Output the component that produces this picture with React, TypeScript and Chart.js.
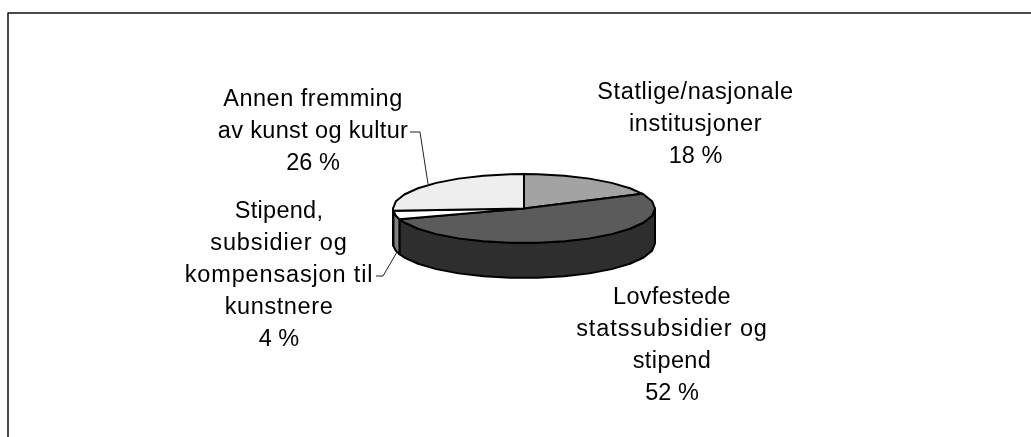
import React, { useEffect, useRef } from "react";
import { Chart, registerables } from "chart.js";

Chart.register(...registerables);

const categories = [
  "Statlige/nasjonale institusjoner",
  "Lovfestede statssubsidier og stipend",
  "Stipend, subsidier og kompensasjon til kunstnere",
  "Annen fremming av kunst og kultur",
];
const shares = [18, 52, 4, 26];
const topColors = ["#a3a3a3", "#5b5b5b", "#ffffff", "#eeeeee"];
const sideColors = ["#727272", "#2e2e2e", "#808080", "#a8a8a8"];

const labelLines = [
  ["Statlige/nasjonale", "institusjoner", "18 %"],
  ["Lovfestede", "statssubsidier og", "stipend", "52 %"],
  ["Stipend,", "subsidier og", "kompensasjon til", "kunstnere", "4 %"],
  ["Annen fremming", "av kunst og kultur", "26 %"],
];
const labelTracking = [
  [0.6, 0.6, 0],
  [0.3, 0.9, 0.4, 0],
  [0.3, 0.9, 0.85, 0.6, 0],
  [0.5, 0.35, 0],
];
const labelAnchors = [
  [695.5, 99],
  [672, 304],
  [279, 218],
  [313, 106],
];
const leaders = [
  null,
  null,
  [[376, 276], [383, 276], [397, 252]],
  [[410, 132], [420, 132], [428, 184]],
];

const TILT = 34.5 / 131;
const DEPTH = 35;
const LINE_GAP = 32.1;
const FACET = (12 * Math.PI) / 180;

function rim(ctx: any, cx: number, cy: number, rx: number, ry: number, a0: number, a1: number) {
  const pts: number[] = [a0];
  if (a1 > a0) {
    for (let k = Math.floor(a0 / FACET) + 1; k * FACET < a1; k++) pts.push(k * FACET);
  } else {
    for (let k = Math.ceil(a0 / FACET) - 1; k * FACET > a1; k--) pts.push(k * FACET);
  }
  pts.push(a1);
  pts.forEach((a) => ctx.lineTo(cx + rx * Math.cos(a), cy + ry * Math.sin(a)));
}

const pie3d = {
  id: "pie3d",
  beforeDatasetDraw() {
    return false;
  },
  afterDatasetsDraw(chart: any) {
    const { ctx } = chart;
    const arcs = chart.getDatasetMeta(0).data;
    const cx = arcs[0].x;
    const cy = arcs[0].y;
    const rx = arcs[0].outerRadius;
    const ry = rx * TILT;
    ctx.save();
    ctx.lineJoin = "round";
    ctx.strokeStyle = "#000";
    ctx.lineWidth = 2;

    // side wall
    arcs.forEach((arc: any, i: number) => {
      const a0 = Math.max(arc.startAngle, 0);
      const a1 = Math.min(arc.endAngle, Math.PI);
      if (a1 <= a0) return;
      ctx.beginPath();
      rim(ctx, cx, cy, rx, ry, a0, a1);
      rim(ctx, cx, cy + DEPTH, rx, ry, a1, a0);
      ctx.closePath();
      ctx.fillStyle = sideColors[i];
      ctx.fill();
      ctx.stroke();
    });

    // top face
    arcs.forEach((arc: any, i: number) => {
      ctx.beginPath();
      ctx.moveTo(cx, cy);
      rim(ctx, cx, cy, rx, ry, arc.startAngle, arc.endAngle);
      ctx.closePath();
      ctx.fillStyle = topColors[i];
      ctx.fill();
      ctx.stroke();
    });

    // leader lines
    ctx.lineWidth = 1;
    ctx.strokeStyle = "#222";
    leaders.forEach((pts) => {
      if (!pts) return;
      ctx.beginPath();
      pts.forEach(([x, y], k) => (k ? ctx.lineTo(x, y) : ctx.moveTo(x, y)));
      ctx.stroke();
    });

    // labels
    ctx.fillStyle = "#000";
    ctx.font = '23.5px "Liberation Sans", Arial, sans-serif';
    ctx.textAlign = "center";
    ctx.textBaseline = "alphabetic";
    labelLines.forEach((lines, i) => {
      lines.forEach((line, k) => {
        ctx.letterSpacing = `${labelTracking[i][k]}px`;
        ctx.fillText(line, labelAnchors[i][0], labelAnchors[i][1] + k * LINE_GAP);
      });
    });
    ctx.letterSpacing = "0px";

    // frame
    ctx.strokeStyle = "#111";
    ctx.lineWidth = 1.5;
    ctx.beginPath();
    ctx.moveTo(8, 437);
    ctx.lineTo(8, 13);
    ctx.lineTo(1031, 13);
    ctx.stroke();
    ctx.restore();
  },
};

export default function App() {
  const ref = useRef<HTMLCanvasElement>(null);
  useEffect(() => {
    const chart = new Chart(ref.current!, {
      type: "pie",
      data: {
        labels: categories,
        datasets: [{ data: shares, backgroundColor: topColors, borderWidth: 0 }],
      },
      options: {
        responsive: false,
        animation: false,
        layout: { padding: { left: 393, right: 376, top: 77.5, bottom: 97.5 } },
        plugins: { legend: { display: false }, tooltip: { enabled: false }, title: { display: false } },
      },
      plugins: [pie3d],
    } as any);
    return () => chart.destroy();
  }, []);
  return (
    <div style={{ position: "fixed", left: 0, top: 0, width: 1031, height: 437, background: "#fff" }}>
      <canvas ref={ref} width={1031} height={437} style={{ display: "block" }} />
    </div>
  );
}
